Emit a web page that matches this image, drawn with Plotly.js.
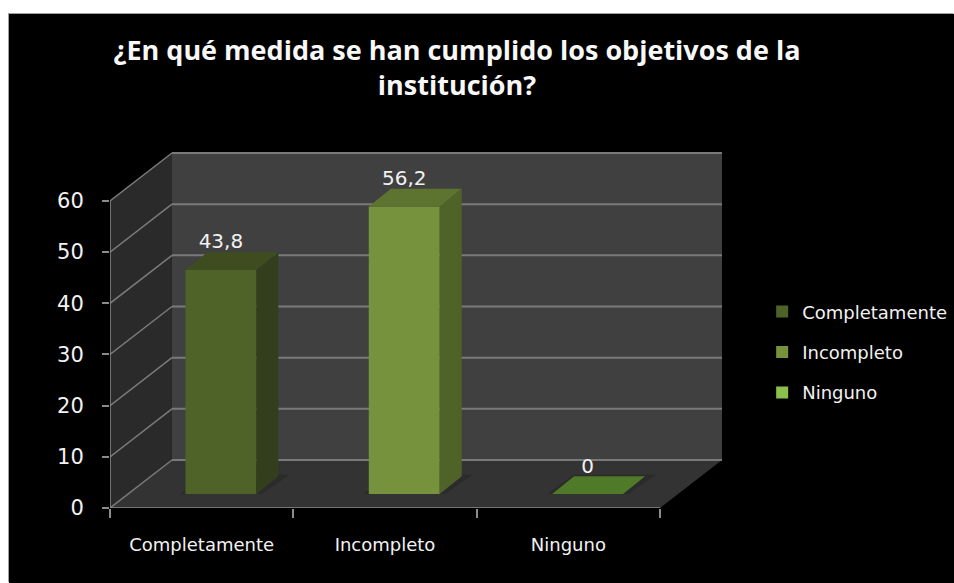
<!DOCTYPE html>
<html>
<head>
<meta charset="utf-8">
<script src="https://cdn.plot.ly/plotly-3.0.1.min.js"></script>
<style>
html,body{margin:0;padding:0;background:#fff;width:954px;height:583px;overflow:hidden}
#chart{position:absolute;left:9px;top:14px;width:945px;height:569px;box-shadow:-1px -1px 0 #a0a0a0}
</style>
</head>
<body>
<div id="chart"></div>
<script>
// data
const titleText = "¿En qué medida se han cumplido los objetivos de la<br>institución?";
const categories = ["Completamente", "Incompleto", "Ninguno"];
const values = [43.8, 56.2, 0];
const valueLabels = ["43,8", "56,2", "0"];
const yTicks = [0, 10, 20, 30, 40, 50, 60];
// styles
const frontColors = ["#4f6228", "#76923c", "#8cc04e"];
const sideColors = ["#333f1c", "#4f6228", "#4f7a28"];
const topColors = ["#3e4c20", "#5c7430", "#4f7a28"];
// 3D projection, in axis units
const wallDX = 0.338, wallDY = 9.38;
const barOffsetX = 0.105, barOffsetY = 2.74;
const barDX = 0.12, barDY = 3.45;
const barWidth = 0.387;
const textFont = "DejaVu Sans";
const textColor = "#f2f2f2";
const axisColor = "#8c8c8c";

const n = categories.length;
const yMax = yTicks[yTicks.length - 1];
const poly = pts => "M" + pts.map(p => p[0] + "," + p[1]).join("L") + "Z";

const shapes = [
  {type:"path", layer:"below", path:poly([[0,0],[wallDX,wallDY],[wallDX,yMax+wallDY],[0,yMax]]), fillcolor:"#2a2a2a", line:{width:0}},
  {type:"path", layer:"below", path:poly([[wallDX,wallDY],[n+wallDX,wallDY],[n+wallDX,yMax+wallDY],[wallDX,yMax+wallDY]]), fillcolor:"#404040", line:{width:0}},
  {type:"path", layer:"below", path:poly([[0,0],[n,0],[n+wallDX,wallDY],[wallDX,wallDY]]), fillcolor:"#333333", line:{width:0}}
];
yTicks.forEach(t => {
  shapes.push({type:"line", layer:"below", x0:wallDX, x1:n+wallDX, y0:t+wallDY, y1:t+wallDY, line:{color:"#7a7a7a", width:2}});
  shapes.push({type:"line", layer:"below", x0:0, x1:wallDX, y0:t, y1:t+wallDY, line:{color:"#7a7a7a", width:1.5}});
});
// soft floor shadows at the foot of each bar
categories.forEach((c,i) => {
  const x0 = i+0.5+barOffsetX-barWidth/2, x1 = x0+barWidth;
  shapes.push({type:"path", layer:"below", path:poly([[x0-0.03,barOffsetY],[x1+0.03,barOffsetY],[x1+barDX+0.06,barOffsetY+barDY+0.3],[x0+barDX-0.0,barOffsetY+barDY+0.3]]), fillcolor:"#2b2b2b", line:{width:0}});
});

const traces = [];
categories.forEach((c,i) => {
  traces.push({type:"bar", name:c, legendgroup:c, x:[i+0.5+barOffsetX], y:[values[i]], base:[barOffsetY], width:[barWidth],
    marker:{color:frontColors[i], line:{width:0}}, hovertemplate:c+": "+valueLabels[i]+"<extra></extra>"});
});
categories.forEach((c,i) => {
  const x0 = i+0.5+barOffsetX-barWidth/2, x1 = x0+barWidth;
  const b = barOffsetY, t = barOffsetY+values[i];
  const face = (xs,ys,col) => ({type:"scatter", mode:"lines", x:xs, y:ys, fill:"toself", fillcolor:col, line:{width:0, color:col}, showlegend:false, hoverinfo:"skip"});
  if (values[i] > 0) traces.push(face([x1,x1+barDX,x1+barDX,x1,x1],[b,b+barDY,t+barDY,t,b],sideColors[i]));
  traces.push(face([x0,x1,x1+barDX,x0+barDX,x0],[t,t,t+barDY,t+barDY,t],topColors[i]));
});
traces.push({type:"scatter", mode:"text", x:categories.map((c,i)=>i+0.5+barOffsetX), y:values.map(v=>v+barOffsetY+barDY+1.7),
  text:valueLabels, textposition:"middle center", textfont:{family:textFont,size:20,color:textColor}, showlegend:false, hoverinfo:"skip", cliponaxis:false});
traces.push({type:"scatter", mode:"lines", x:[0,0,n], y:[yMax,0,0], line:{color:axisColor,width:1.5}, showlegend:false, hoverinfo:"skip", cliponaxis:false});

const layout = {
  width:945, height:569,
  paper_bgcolor:"#000", plot_bgcolor:"#000",
  margin:{l:101,r:230,t:136,b:75},
  showlegend:true,
  barmode:"overlay",
  title:{text:titleText, x:448/945, xanchor:"center", y:0.919, yanchor:"top", font:{family:"Open Sans",size:27,color:"#f8f8f8",weight:700}},
  font:{family:textFont,color:textColor},
  xaxis:{range:[0,3.349], tickmode:"array", tickvals:categories.map((c,i)=>i+0.5), ticktext:categories, ticks:"", showgrid:false, zeroline:false, showline:false,
    ticklabelstandoff:24, tickfont:{family:textFont,size:18,color:textColor},
    minor:{tickmode:"array", tickvals:[0,1,2,3], ticks:"outside", ticklen:9, tickwidth:1.5, tickcolor:axisColor, showgrid:false}},
  yaxis:{range:[0,69.96], tickmode:"array", tickvals:yTicks, ticktext:yTicks.map(String), ticks:"outside", ticklen:7, tickwidth:1.5, tickcolor:axisColor,
    showgrid:false, zeroline:false, showline:false, ticklabelstandoff:14, tickfont:{family:textFont,size:21,color:textColor}},
  legend:{xref:"container", yref:"container", x:0.797, xanchor:"left", y:0.509, yanchor:"top", traceorder:"grouped", tracegroupgap:14, bgcolor:"rgba(0,0,0,0)",
    font:{family:textFont,size:18,color:textColor}},
  shapes:shapes
};
Plotly.newPlot("chart", traces, layout, {displayModeBar:false, responsive:false});
</script>
</body>
</html>
